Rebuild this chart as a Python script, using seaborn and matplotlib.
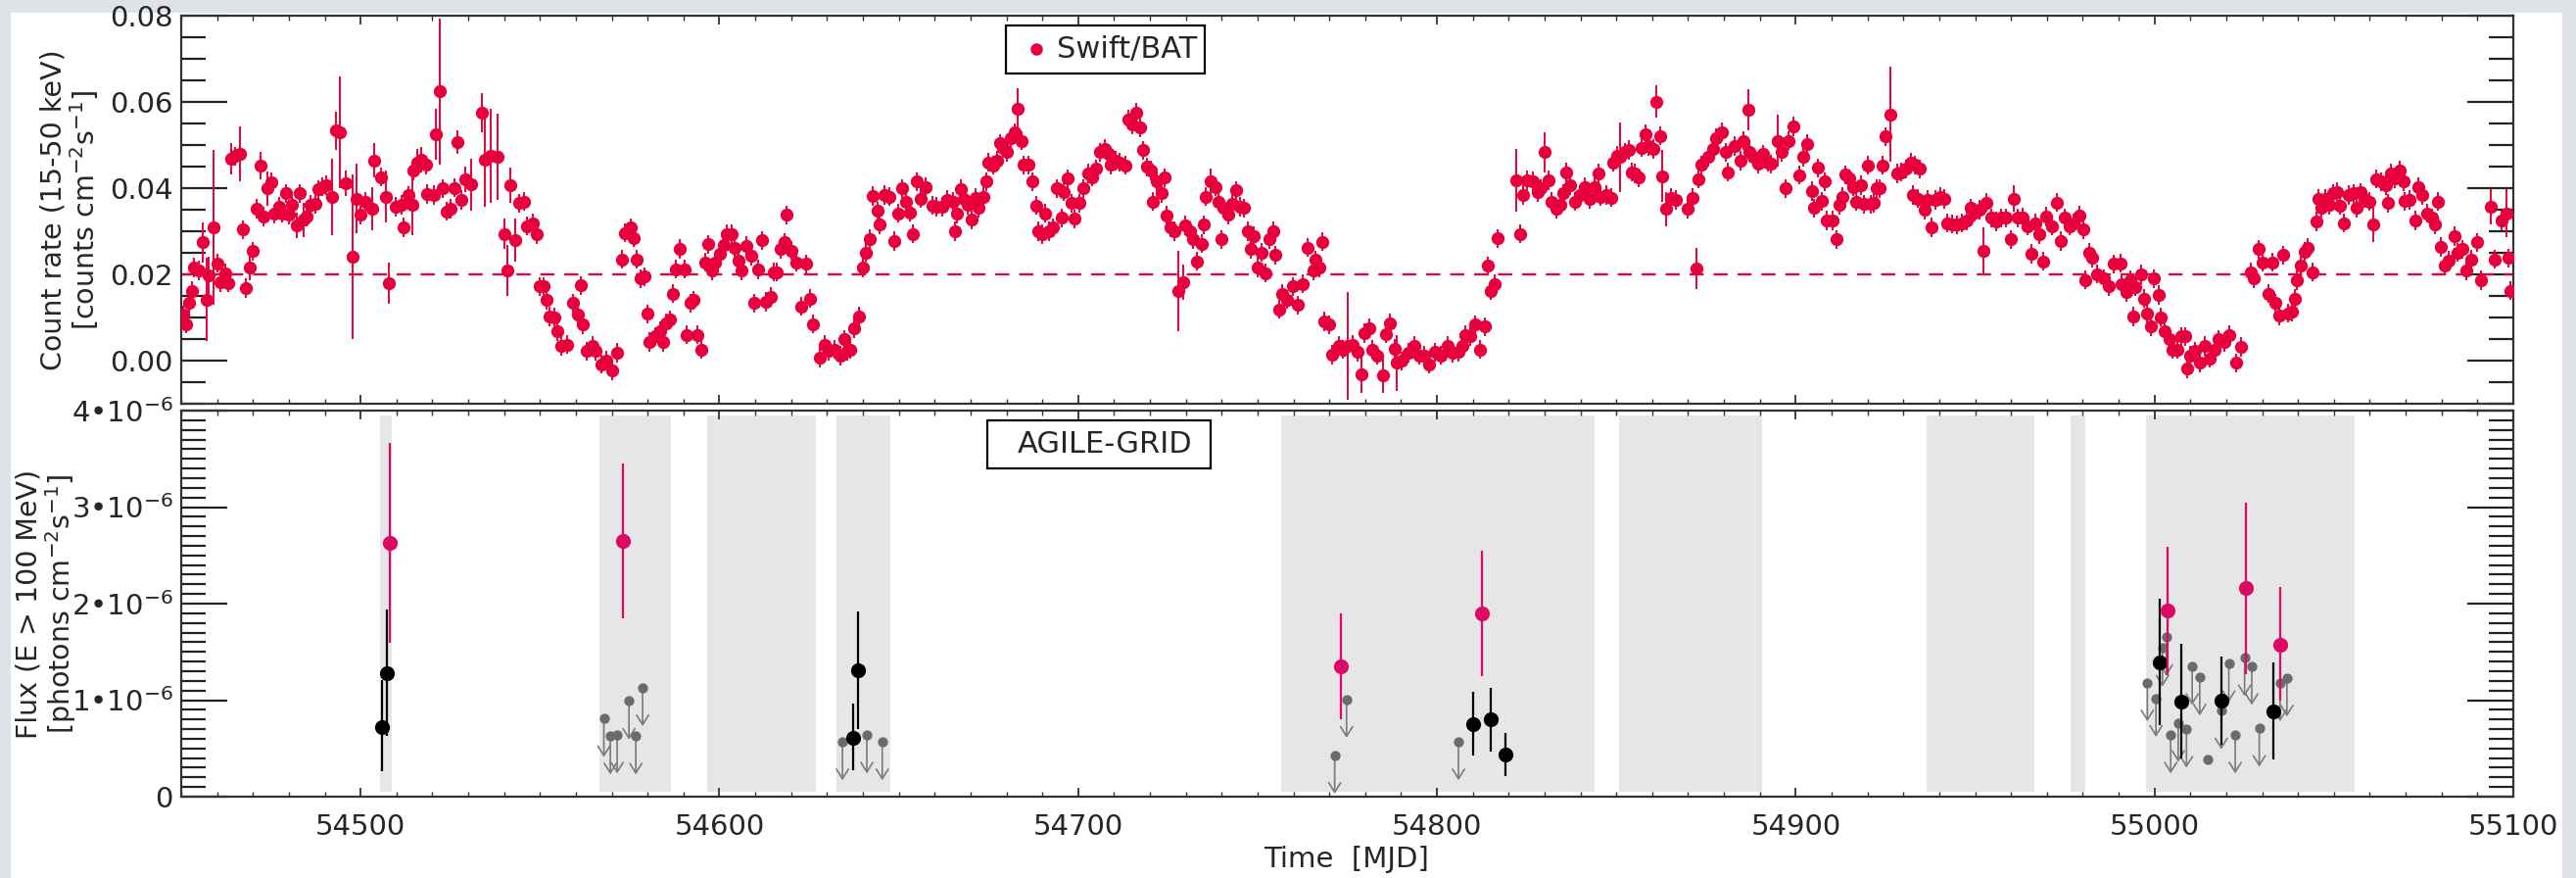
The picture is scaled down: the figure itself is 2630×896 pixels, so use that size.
import numpy as np
import pandas as pd
import matplotlib
matplotlib.use("Agg")
import matplotlib.pyplot as plt
import seaborn as sns
from matplotlib.ticker import MultipleLocator, FixedLocator, FixedFormatter
from matplotlib.patches import Rectangle

# ---------------- Swift/BAT light curve ----------------
bat_mjd = [
 54450.6,54451.4,54452.1,54453.0,54453.6,54455.0,54456.1,54457.1,54457.7,54459.1,54460.0,54460.9,54462.3,54463.2,
 54463.9,54465.0,54466.4,54467.1,54468.0,54469.1,54470.0,54470.9,54472.1,54473.0,54473.9,54475.0,54475.9,54477.3,
 54478.2,54479.1,54480.0,54480.9,54482.1,54483.0,54484.1,54485.0,54485.9,54487.3,54488.2,54489.4,54490.5,54492.1,
 54493.0,54494.1,54495.9,54497.9,54498.8,54500.0,54501.4,54503.2,54503.9,54505.7,54507.0,54508.0,54509.7,54511.4,
 54512.1,54513.2,54514.3,54514.8,54515.9,54517.0,54518.2,54518.6,54520.5,54521.1,54522.1,54523.0,54523.9,54525.0,
 54526.1,54527.0,54528.0,54529.1,54530.9,54533.9,54534.5,54536.4,54538.2,54540.0,54540.9,54541.8,54543.2,54544.1,
 54545.5,54546.4,54547.9,54549.1,54550.0,54550.9,54551.8,54552.7,54554.1,54554.8,54555.9,
 54557.5,54559.3,54560.6,54561.3,54562.0,54562.9,54564.7,54565.6,54567.0,54568.4,54570.0,54571.6,54572.9,54573.8,
 54575.2,54576.1,54577.0,54577.9,54579.1,54580.0,54580.6,54582.0,54583.4,54584.3,54585.2,54586.1,54587.0,54587.9,
 54589.0,54590.2,54590.9,54592.0,54592.9,54594.0,54595.0,54596.1,54597.0,54597.9,54598.8,54600.2,54601.3,54602.0,
 54603.4,54604.3,54605.2,54606.1,54607.5,54608.8,54609.7,54610.8,54612.0,54612.9,54614.3,54615.2,54616.1,54617.0,
 54618.2,54618.8,54620.2,54621.5,54622.9,54624.3,54625.2,54626.1,54627.9,54629.3,54630.4,54632.0,54633.8,54634.7,
 54635.6,54636.5,54637.5,54638.8,54640.0,54640.9,54642.0,54642.7,54644.0,54644.7,54646.1,54647.5,54648.8,54649.7,
 54650.9,54652.0,54653.1,54653.8,54654.9,54656.1,54657.6,54659.3,54660.6,54662.0,54663.4,
 54665.0,54665.6,54666.2,54667.3,54668.2,54669.1,54670.2,54671.4,54672.3,54673.5,54674.3,54675.0,54676.4,54677.5,
 54678.2,54679.1,54680.0,54681.2,54682.3,54683.2,54684.1,54684.7,54686.2,54687.1,54688.2,54688.9,54690.0,54690.9,
 54691.8,54692.9,54694.1,54695.3,54695.9,54697.1,54698.2,54699.1,54700.3,54701.4,54702.7,54703.8,54705.0,54706.2,
 54707.3,54708.4,54709.1,54710.5,54711.6,54713.2,54714.1,54715.0,54716.2,54717.3,54718.2,54719.1,54720.2,54720.9,
 54721.8,54723.2,54724.1,54724.7,54725.6,54726.8,54728.0,54729.3,54729.8,54731.1,54732.0,54733.2,54734.4,54735.0,
 54735.6,54737.0,54738.2,54739.1,54740.0,54740.5,54741.8,54742.9,54744.1,54745.0,54746.2,54747.3,54748.0,54748.9,
 54750.0,54751.1,54752.3,54753.2,54754.4,54755.0,54755.9,54756.8,54758.2,54759.8,54761.1,54762.5,54763.9,54765.5,
 54766.2,54767.1,54768.0,54768.6,54770.0,54770.9,54772.7,
 54773.8,54775.2,54776.5,54777.9,54779.0,54779.7,54781.1,54782.0,54783.2,54785.0,54785.9,54787.0,54788.2,54788.8,
 54790.2,54792.0,54793.8,54795.2,54796.5,54797.9,54799.3,54801.1,54802.9,54804.3,54806.1,54807.2,54808.0,54809.3,
 54810.5,54812.0,54813.4,54814.1,54815.0,54816.1,54817.0,54822.0,54823.2,54824.1,54825.2,54826.8,54828.1,54828.8,
 54829.9,54831.1,54832.0,54833.2,54834.4,54835.3,54836.0,54837.2,54838.4,54839.7,54841.1,54842.5,54843.8,54844.9,
 54845.6,54847.2,54848.6,54849.0,54850.2,54851.1,54852.3,54853.4,54854.3,54855.2,54856.3,54857.0,54858.1,54859.0,
 54860.2,54861.1,54862.2,54862.9,54863.8,54865.2,54866.5,54869.9,54871.1,54872.2,54872.9,54873.8,54875.6,54877.0,
 54877.7,54879.3,54880.6,54881.1,
 54883.1,54884.5,54885.4,54886.7,54887.0,54888.1,54889.5,54890.8,54892.2,54893.1,54894.9,54896.0,54897.2,54898.1,
 54899.3,54901.1,54902.0,54903.1,54904.4,54905.0,54906.3,54907.2,54908.1,54908.5,54910.4,54911.3,54912.2,54912.9,
 54913.8,54915.0,54916.0,54916.7,54918.1,54919.0,54920.1,54920.8,54921.7,54922.6,54923.5,54924.3,54924.9,54926.3,
 54928.4,54929.5,54930.8,54932.0,54932.6,54933.1,54934.0,54934.5,54935.8,54936.7,54937.8,54939.0,54940.4,54941.5,
 54942.2,54943.5,54944.9,54946.3,54947.6,54948.7,54949.9,54951.1,54952.2,54953.1,54954.5,54955.8,54957.2,54958.5,
 54959.9,54960.8,54962.0,54963.3,54964.5,54965.8,54966.7,54967.8,54969.0,54969.9,54971.3,54972.9,54973.8,54974.9,
 54976.2,54977.5,54979.0,54980.2,54980.8,54981.7,54982.6,54984.0,54985.8,54987.2,54988.5,
 54990.4,54990.9,54992.3,54993.2,54994.1,54994.7,54996.2,54997.1,54998.0,54999.1,54999.8,55001.2,55001.8,55002.7,
 55004.1,55005.0,55006.4,55007.5,55008.6,55009.1,55010.0,55011.4,55012.7,55014.1,55015.5,55016.8,55017.7,55019.5,
 55020.9,55022.7,55024.1,55026.8,55027.7,55029.1,55030.2,55031.8,55032.9,55033.6,55034.7,55035.9,55037.3,55038.4,
 55039.1,55039.8,55040.7,55041.8,55042.7,55044.1,55045.0,55045.6,55046.5,55047.7,55048.6,55049.8,55050.9,55051.8,
 55052.9,55054.1,55055.5,55056.2,55057.3,55058.6,55060.0,55060.9,55061.8,55063.2,55064.5,55065.0,55065.9,55067.1,
 55068.2,55069.5,55069.6,55071.1,55072.7,55073.6,55074.5,55075.9,55077.3,55078.2,55078.9,55079.8,55080.9,55082.0,
 55083.6,55084.5,55085.9,55086.8,55088.2,55089.8,55090.9,55093.8,55094.7,55096.8,55098.2,55098.6,55099.3,
]
bat_rate = [
 0.0106,0.0085,0.0134,0.0162,0.0216,0.0209,0.0274,0.0142,0.0197,0.0309,0.0226,0.0182,0.0203,0.0180,
 0.0468,0.0474,0.0480,0.0304,0.0168,0.0216,0.0254,0.0352,0.0453,0.0334,0.0399,0.0414,0.0340,0.0357,
 0.0342,0.0388,0.0338,0.0361,0.0314,0.0388,0.0327,0.0334,0.0361,0.0363,0.0397,0.0403,0.0407,0.0380,
 0.0533,0.0530,0.0411,0.0241,0.0376,0.0338,0.0369,0.0352,0.0464,0.0426,0.0380,0.0180,0.0357,0.0361,
 0.0309,0.0383,0.0361,0.0441,0.0460,0.0466,0.0454,0.0386,0.0384,0.0525,0.0624,0.0399,0.0346,0.0352,
 0.0401,0.0507,0.0373,0.0421,0.0408,0.0575,0.0466,0.0475,0.0472,0.0294,0.0209,0.0407,0.0279,0.0365,
 0.0369,0.0312,0.0319,0.0293,0.0172,0.0172,0.0140,0.0102,0.0101,0.0068,0.0034,
 0.0037,0.0133,0.0106,0.0174,0.0083,0.0022,0.0034,0.0022,-0.0008,0.0000,-0.0023,0.0018,0.0235,0.0296,
 0.0308,0.0285,0.0235,0.0190,0.0195,0.0108,0.0043,0.0056,0.0068,0.0043,0.0087,0.0095,0.0155,0.0212,
 0.0259,0.0212,0.0060,0.0133,0.0140,0.0060,0.0026,0.0228,0.0270,0.0209,0.0228,0.0247,0.0268,0.0293,
 0.0293,0.0262,0.0232,0.0209,0.0266,0.0243,0.0133,0.0211,0.0279,0.0136,0.0148,0.0205,0.0205,0.0258,
 0.0274,0.0338,0.0255,0.0228,0.0126,0.0224,0.0144,0.0085,0.0007,0.0037,0.0022,0.0026,0.0011,0.0049,
 0.0022,0.0026,0.0075,0.0102,0.0216,0.0251,0.0282,0.0382,0.0347,0.0316,0.0384,0.0380,0.0277,0.0342,
 0.0399,0.0369,0.0344,0.0294,0.0415,0.0376,0.0403,0.0360,0.0357,0.0357,0.0373,
 0.0369,0.0300,0.0340,0.0398,0.0375,0.0361,0.0327,0.0378,0.0354,0.0380,0.0415,0.0460,0.0453,0.0464,
 0.0504,0.0494,0.0483,0.0517,0.0529,0.0584,0.0510,0.0454,0.0454,0.0415,0.0360,0.0300,0.0293,0.0342,
 0.0300,0.0308,0.0399,0.0331,0.0392,0.0422,0.0365,0.0329,0.0365,0.0399,0.0434,0.0426,0.0445,0.0483,
 0.0491,0.0479,0.0454,0.0464,0.0460,0.0453,0.0559,0.0548,0.0576,0.0540,0.0488,0.0449,0.0441,0.0369,
 0.0415,0.0388,0.0424,0.0337,0.0308,0.0300,0.0162,0.0182,0.0314,0.0300,0.0281,0.0230,0.0271,0.0315,
 0.0380,0.0415,0.0403,0.0369,0.0281,0.0354,0.0338,0.0363,0.0395,0.0357,0.0354,0.0300,0.0258,0.0289,
 0.0216,0.0251,0.0203,0.0281,0.0300,0.0245,0.0119,0.0155,0.0142,0.0172,0.0129,0.0178,0.0262,0.0209,
 0.0233,0.0216,0.0276,0.0091,0.0083,0.0014,0.0034,
 0.0026,0.0034,0.0037,0.0020,-0.0031,0.0064,0.0075,0.0026,0.0012,-0.0035,0.0062,0.0087,0.0027,-0.0005,
 -0.0001,0.0018,0.0034,0.0012,0.0012,-0.0008,0.0020,0.0012,0.0035,0.0018,0.0020,0.0034,0.0060,0.0056,
 0.0083,0.0026,0.0079,0.0220,0.0162,0.0177,0.0283,0.0418,0.0294,0.0384,0.0418,0.0416,0.0390,0.0399,
 0.0483,0.0418,0.0369,0.0352,0.0361,0.0388,0.0437,0.0407,0.0369,0.0384,0.0403,0.0375,0.0403,0.0434,
 0.0380,0.0384,0.0378,0.0460,0.0475,0.0472,0.0483,0.0489,0.0437,0.0434,0.0424,0.0494,0.0525,0.0498,
 0.0491,0.0601,0.0521,0.0428,0.0352,0.0378,0.0373,0.0352,0.0378,0.0214,0.0421,0.0454,0.0472,0.0491,
 0.0517,0.0530,0.0483,0.0437,
 0.0498,0.0464,0.0510,0.0581,0.0483,0.0472,0.0456,0.0479,0.0460,0.0456,0.0510,0.0483,0.0399,0.0510,
 0.0543,0.0430,0.0472,0.0502,0.0393,0.0354,0.0447,0.0370,0.0415,0.0325,0.0325,0.0281,0.0361,0.0380,
 0.0431,0.0422,0.0403,0.0369,0.0407,0.0363,0.0453,0.0363,0.0365,0.0399,0.0399,0.0453,0.0520,0.0571,
 0.0434,0.0437,0.0445,0.0460,0.0384,0.0454,0.0376,0.0445,0.0350,0.0373,0.0309,0.0373,0.0380,0.0375,
 0.0319,0.0317,0.0315,0.0319,0.0325,0.0354,0.0344,0.0350,0.0254,0.0367,0.0331,0.0323,0.0331,0.0331,
 0.0281,0.0376,0.0331,0.0332,0.0312,0.0248,0.0319,0.0293,0.0230,0.0334,0.0312,0.0367,0.0277,0.0331,
 0.0312,0.0319,0.0337,0.0304,0.0187,0.0251,0.0239,0.0201,0.0190,0.0172,0.0224,
 0.0226,0.0178,0.0159,0.0186,0.0102,0.0171,0.0200,0.0144,0.0110,0.0079,0.0190,0.0152,0.0101,0.0068,
 0.0049,0.0026,0.0026,0.0056,0.0056,-0.0018,0.0011,0.0022,-0.0005,0.0034,0.0005,0.0026,0.0049,0.0043,
 0.0060,-0.0005,0.0032,0.0205,0.0190,0.0258,0.0228,0.0155,0.0228,0.0133,0.0104,0.0245,0.0110,0.0114,
 0.0144,0.0186,0.0220,0.0253,0.0262,0.0205,0.0323,0.0376,0.0354,0.0376,0.0361,0.0388,0.0392,0.0360,
 0.0319,0.0384,0.0388,0.0354,0.0390,0.0376,0.0369,0.0315,0.0421,0.0415,0.0407,0.0365,0.0434,0.0422,
 0.0441,0.0415,0.0370,0.0373,0.0325,0.0403,0.0384,0.0342,0.0331,0.0315,0.0369,0.0264,0.0220,0.0232,
 0.0289,0.0251,0.0258,0.0209,0.0235,0.0274,0.0186,0.0357,0.0235,0.0325,0.0342,0.0238,0.0162,
]
bat_err_default = 0.0022
bat_big_err = {
 54456.1: 0.0046, 54457.1: 0.0097, 54457.7: 0.0045, 54459.1: 0.018, 54463.9: 0.0036, 54466.4: 0.0063,
 54469.1: 0.003, 54472.1: 0.0032, 54473.9: 0.004, 54482.1: 0.003, 54484.1: 0.004, 54492.1: 0.0088,
 54493.0: 0.0045, 54494.1: 0.013, 54495.9: 0.003, 54497.9: 0.019, 54498.8: 0.008, 54503.2: 0.005,
 54503.9: 0.004, 54507.0: 0.006, 54508.0: 0.0048, 54514.3: 0.007, 54515.9: 0.003, 54517.0: 0.003,
 54521.1: 0.006, 54522.1: 0.017, 54527.0: 0.0027, 54529.1: 0.003, 54530.9: 0.006, 54533.9: 0.0046,
 54534.5: 0.011, 54536.4: 0.011, 54538.2: 0.010, 54540.0: 0.0036, 54540.9: 0.006, 54541.8: 0.004,
 54543.2: 0.005, 54683.2: 0.0047, 54728.0: 0.0093, 54729.3: 0.004, 54737.0: 0.003,
 54775.2: 0.0124, 54779.0: 0.0045, 54785.0: 0.004, 54788.8: 0.0065, 54822.0: 0.0072, 54829.9: 0.0046,
 54851.1: 0.008, 54861.1: 0.0037, 54862.9: 0.006, 54863.8: 0.004, 54872.2: 0.0048,
 54886.7: 0.0048, 54894.9: 0.006, 54926.3: 0.011, 54952.2: 0.0055, 54960.8: 0.003,
 55060.9: 0.004, 55093.8: 0.004, 55098.2: 0.0055,
}
bat_threshold = 0.02

# ---------------- AGILE-GRID ----------------
agile_pink_mjd = [54508.1, 54573.1, 54773.3, 54812.5, 55003.5, 55025.6, 55035.0]
agile_pink_flux = [2.63, 2.65, 1.35, 1.90, 1.93, 2.16, 1.57]          # 1e-6
agile_pink_lo = [1.59, 1.85, 0.80, 1.25, 1.26, 1.27, 0.99]
agile_pink_hi = [3.66, 3.45, 1.90, 2.55, 2.59, 3.05, 2.17]

agile_black_mjd = [54506.1, 54507.2, 54637.4, 54638.6, 54810.0, 54815.0, 54819.0,
                   55001.4, 55007.4, 55018.7, 55033.0]
agile_black_flux = [0.72, 1.28, 0.61, 1.31, 0.75, 0.80, 0.44, 1.39, 0.98, 1.00, 0.88]
agile_black_lo = [0.26, 0.63, 0.27, 0.70, 0.43, 0.47, 0.21, 0.74, 0.40, 0.54, 0.39]
agile_black_hi = [1.21, 1.94, 0.96, 1.92, 1.09, 1.13, 0.66, 2.05, 1.58, 1.45, 1.39]

agile_ul_mjd = [54567.8, 54569.6, 54571.5, 54574.8, 54576.7, 54578.6,
                54634.3, 54641.1, 54645.4,
                54771.5, 54774.8, 54806.0,
                54998.0, 55000.4, 55002.2, 55003.3, 55004.5, 55006.6, 55008.9, 55010.5,
                55012.6, 55014.7, 55018.6, 55020.7, 55022.5, 55025.1, 55027.1, 55029.2,
                55035.0, 55036.9]
agile_ul_flux = [0.81, 0.63, 0.64, 0.99, 0.63, 1.13,
                 0.57, 0.64, 0.57,
                 0.43, 1.01, 0.57,
                 1.18, 1.02, 1.54, 1.65, 0.64, 0.76, 0.70, 1.35,
                 1.24, 0.39, 0.89, 1.38, 0.64, 1.44, 1.35, 0.71,
                 1.18, 1.23]
ul_arrow_len = 0.40

band_start = [54505.5, 54566.5, 54596.6, 54632.7, 54756.6, 54850.8, 54936.5, 54976.7, 54997.5]
band_end = [54508.7, 54586.6, 54626.9, 54647.7, 54843.9, 54890.7, 54966.5, 54980.6, 55055.7]

flux_ticks = [0, 1, 2, 3, 4]
flux_ticklabels = ['0', '1•10$^{-6}$', '2•10$^{-6}$', '3•10$^{-6}$', '4•10$^{-6}$']

# ---------------- styling ----------------
sns.set_theme(style="white")
plt.rcParams['font.family'] = ['DejaVu Sans']
plt.rcParams['mathtext.fontset'] = 'dejavusans'

RED = '#e8003c'
PINK = '#dc0a64'
GRAY = '#6b6b6b'
W, H = 2630, 896

fig = plt.figure(figsize=(W / 100, H / 100), dpi=100)
fig.patch.set_facecolor('#dfe2e6')
fig.add_artist(Rectangle((11 / W, 0), (2616 - 11) / W, (H - 13) / H, transform=fig.transFigure,
                         facecolor='white', edgecolor='none', zorder=-10))

ax1 = fig.add_axes([185 / W, (H - 412) / H, 2381 / W, 396 / H])
ax2 = fig.add_axes([185 / W, (H - 813) / H, 2381 / W, 394 / H])

bat = pd.DataFrame({'mjd': bat_mjd, 'rate': bat_rate})
bat['err'] = [bat_big_err.get(m, bat_err_default) for m in bat_mjd]

ax1.errorbar(bat['mjd'], bat['rate'], yerr=bat['err'], fmt='none', ecolor=RED, elinewidth=1.4,
             capsize=0, zorder=2)
sns.scatterplot(data=bat, x='mjd', y='rate', ax=ax1, color=RED, s=92, linewidth=0, zorder=3,
                legend=False)
ax1.axhline(bat_threshold, color=RED, lw=1.6, dashes=(6.5, 4.5), zorder=1)

# AGILE panel
for s, e in zip(band_start, band_end):
    ax2.axvspan(s, e, ymin=0.012, ymax=0.988, color='#e6e6e6', lw=0, zorder=0)

scale = 1e-6
pink = pd.DataFrame({'mjd': agile_pink_mjd, 'flux': np.array(agile_pink_flux) * scale})
black = pd.DataFrame({'mjd': agile_black_mjd, 'flux': np.array(agile_black_flux) * scale})
ul = pd.DataFrame({'mjd': agile_ul_mjd, 'flux': np.array(agile_ul_flux) * scale})

for m, f in zip(ul['mjd'], ul['flux']):
    ax2.annotate('', xy=(m, f - ul_arrow_len * scale), xytext=(m, f),
                 arrowprops=dict(arrowstyle='->,head_length=0.35,head_width=0.22', mutation_scale=20,
                                 color='#7a7a7a', lw=1.2, shrinkA=0, shrinkB=0), zorder=2)
sns.scatterplot(data=ul, x='mjd', y='flux', ax=ax2, color=GRAY, s=55, linewidth=0, zorder=3,
                legend=False)

ax2.errorbar(black['mjd'], black['flux'],
             yerr=[black['flux'] - np.array(agile_black_lo) * scale,
                   np.array(agile_black_hi) * scale - black['flux']],
             fmt='none', ecolor='black', elinewidth=1.6, capsize=0, zorder=4)
sns.scatterplot(data=black, x='mjd', y='flux', ax=ax2, color='black', s=120, linewidth=0, zorder=5,
                legend=False)
ax2.errorbar(pink['mjd'], pink['flux'],
             yerr=[pink['flux'] - np.array(agile_pink_lo) * scale,
                   np.array(agile_pink_hi) * scale - pink['flux']],
             fmt='none', ecolor=PINK, elinewidth=1.6, capsize=0, zorder=6)
sns.scatterplot(data=pink, x='mjd', y='flux', ax=ax2, color=PINK, s=120, linewidth=0, zorder=7,
                legend=False)

# axes formatting
for ax in (ax1, ax2):
    ax.set_facecolor('white')
    ax.set_xlim(54450, 55100)
    ax.xaxis.set_major_locator(MultipleLocator(100))
    ax.xaxis.set_minor_locator(MultipleLocator(10))
    ax.tick_params(axis='x', which='major', direction='in', length=6.5, width=1.3, top=True,
                   bottom=True, color='#333333', labelsize=21, pad=12)
    ax.tick_params(axis='x', which='minor', direction='in', length=3.5, width=1.0, top=True,
                   bottom=True, color='#333333')
    ax.tick_params(axis='y', which='major', direction='in', length=34, width=1.6, left=True,
                   right=True, color='#222222', labelsize=21, pad=6)
    ax.tick_params(axis='y', which='minor', direction='in', length=18, width=1.6, left=True,
                   right=True, color='#222222')
    for sp in ax.spines.values():
        sp.set_linewidth(1.6)
        sp.set_color('#333333')
    ax.set_xlabel('')
    ax.set_ylabel('')

ax1.set_ylim(-0.01, 0.08)
ax1.yaxis.set_major_locator(MultipleLocator(0.02))
ax1.yaxis.set_minor_locator(MultipleLocator(0.005))
ax1.yaxis.set_major_formatter(matplotlib.ticker.FormatStrFormatter('%.2f'))
ax1.tick_params(axis='x', labelbottom=False)

ax2.set_ylim(0, 4e-6)
ax2.yaxis.set_major_locator(FixedLocator(np.array(flux_ticks) * scale))
ax2.yaxis.set_major_formatter(FixedFormatter(flux_ticklabels))
ax2.yaxis.set_minor_locator(MultipleLocator(1e-7))

# legend boxes
ax1.add_patch(Rectangle((0.3536, 0.851), 0.0853, 0.124, transform=ax1.transAxes, facecolor='white',
                        edgecolor='black', lw=1.6, zorder=8, clip_on=False))
ax1.plot([0.3667], [0.914], 'o', color=RED, ms=9, mec='none', transform=ax1.transAxes, zorder=9)
ax1.text(0.3755, 0.914, 'Swift/BAT', transform=ax1.transAxes, fontsize=22, va='center', ha='left',
         zorder=9)
ax2.add_patch(Rectangle((0.3457, 0.850), 0.0957, 0.1246, transform=ax2.transAxes, facecolor='white',
                        edgecolor='black', lw=1.6, zorder=8, clip_on=False))
ax2.text(0.3587, 0.912, 'AGILE-GRID', transform=ax2.transAxes, fontsize=22, va='center', ha='left',
         zorder=9)

# axis labels
fig.text(55 / W, (H - 214) / H, 'Count rate (15-50 keV)', rotation=90, ha='center', va='center',
         fontsize=20.5)
fig.text(86 / W, (H - 214) / H, '[counts cm$^{-2}$s$^{-1}$]', rotation=90, ha='center', va='center',
         fontsize=20.5)
fig.text(30 / W, (H - 616) / H, 'Flux (E > 100 MeV)', rotation=90, ha='center', va='center',
         fontsize=20.5)
fig.text(62 / W, (H - 616) / H, '[photons cm$^{-2}$s$^{-1}$]', rotation=90, ha='center', va='center',
         fontsize=20.5)
fig.text(1375 / W, (H - 877) / H, 'Time  [MJD]', ha='center', va='center', fontsize=21)

fig.savefig('out.png', dpi=100, facecolor=fig.get_facecolor())
